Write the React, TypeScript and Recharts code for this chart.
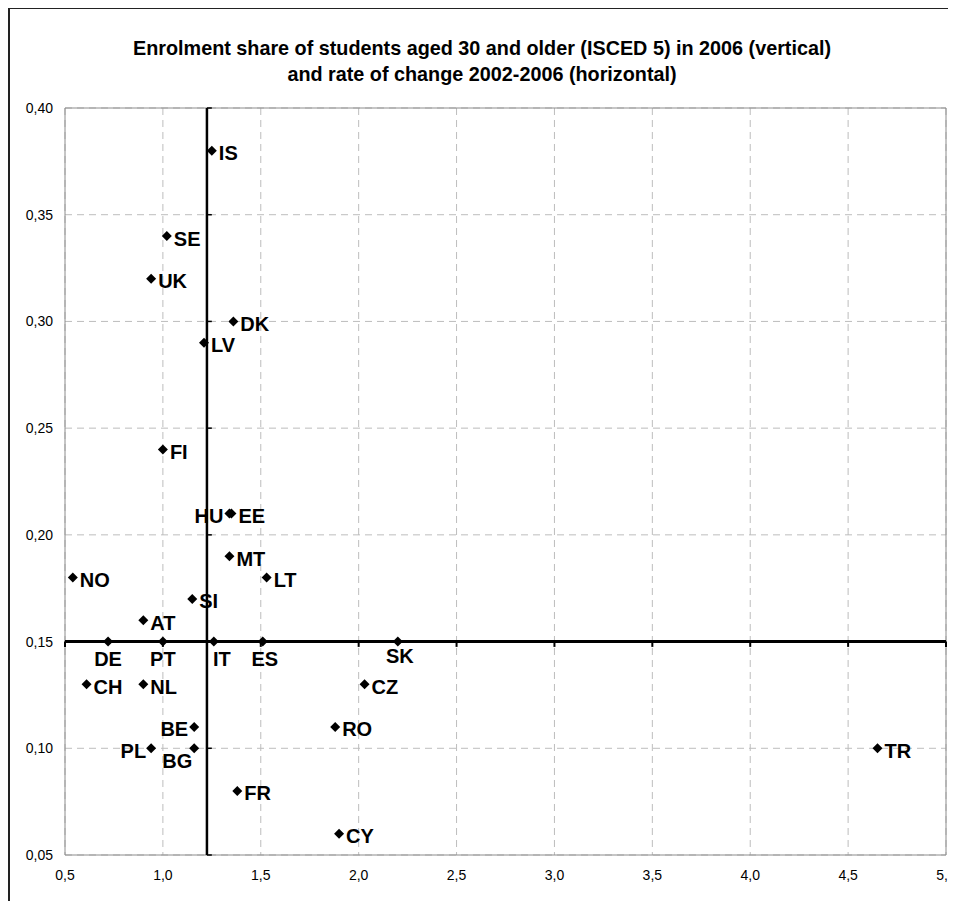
import React from "react";
import {
  ScatterChart,
  Scatter,
  XAxis,
  YAxis,
  CartesianGrid,
  ReferenceLine,
  ReferenceArea,
  LabelList,
} from "recharts";

const COUNTRIES = ["IS", "SE", "UK", "DK", "LV", "FI", "HU", "EE", "MT", "LT", "SI", "AT", "NO", "DE", "PT", "IT", "ES", "SK", "CH", "NL", "CZ", "BE", "RO", "PL", "BG", "TR", "FR", "CY"];
// rate of change 2002-2006 (horizontal)
const CHANGE = [1.25, 1.02, 0.94, 1.36, 1.21, 1.0, 1.34, 1.35, 1.34, 1.53, 1.15, 0.9, 0.54, 0.72, 1.0, 1.26, 1.51, 2.2, 0.61, 0.9, 2.03, 1.16, 1.88, 0.94, 1.16, 4.65, 1.38, 1.9];
// enrolment share of students aged 30+ in 2006 (vertical)
const SHARE = [0.38, 0.34, 0.32, 0.3, 0.29, 0.24, 0.21, 0.21, 0.19, 0.18, 0.17, 0.16, 0.18, 0.15, 0.15, 0.15, 0.15, 0.15, 0.13, 0.13, 0.13, 0.11, 0.11, 0.1, 0.1, 0.1, 0.08, 0.06];

const X_TICKS = [0.5, 1.0, 1.5, 2.0, 2.5, 3.0, 3.5, 4.0, 4.5, 5.0];
const Y_TICKS = [0.05, 0.1, 0.15, 0.2, 0.25, 0.3, 0.35, 0.4];
const X_CROSS = 1.225; // where the vertical axis crosses
const Y_CROSS = 0.15; // where the horizontal axis crosses

const data = COUNTRIES.map((name, i) => ({ name, x: CHANGE[i], y: SHARE[i] }));

const FONT = '"Liberation Sans", Arial, sans-serif';

// label placement: [dx, dy, anchor]; default is to the right of the marker
const LABEL_POS: Record<string, [number, number, string]> = {
  HU: [-6, 9.5, "end"],
  BE: [-6, 9.5, "end"],
  PL: [-5, 9.5, "end"],
  DE: [0, 24, "middle"],
  PT: [0, 24, "middle"],
  IT: [8, 24, "middle"],
  ES: [2, 24, "middle"],
  SK: [2, 21, "middle"],
  BG: [-17, 20, "middle"],
};

const Diamond = (props: any) => {
  const { cx, cy } = props;
  const r = 5;
  return <polygon points={`${cx},${cy - r} ${cx + r},${cy} ${cx},${cy + r} ${cx - r},${cy}`} fill="#000" />;
};

const PointLabel = (props: any) => {
  const { x, y, width, height, value } = props;
  const cx = x + width / 2;
  const cy = y + height / 2;
  const [dx, dy, anchor] = LABEL_POS[value] || [7, 9.5, "start"];
  return (
    <text x={cx + dx} y={cy + dy} textAnchor={anchor} fontFamily={FONT} fontWeight="bold" fontSize={20} fill="#000">
      {value}
    </text>
  );
};

const XTick = (props: any) => {
  const { x, y, payload } = props;
  return (
    <text x={x} y={y} dy="0.71em" textAnchor="middle" fontFamily={FONT} fontSize={14} fill="#000">
      {payload.value.toFixed(1).replace(".", ",")}
    </text>
  );
};

const YTick = (props: any) => {
  const { x, y, payload } = props;
  return (
    <text x={x} y={y} dy="0.355em" textAnchor="end" fontFamily={FONT} fontSize={14} fill="#000">
      {payload.value.toFixed(2).replace(".", ",")}
    </text>
  );
};

export default function App() {
  return (
    <div style={{ position: "relative", width: 960, height: 893, overflow: "hidden", fontFamily: FONT }}>
      <style>{"html,body{overflow:hidden}"}</style>
      <div style={{ position: "absolute", left: 0, top: -1, width: 1000, height: 1000, borderTop: "2px solid #222", borderLeft: "2px solid #222" }} />
      <div style={{ position: "absolute", left: 0, top: 27, width: 948, textAlign: "center", fontWeight: "bold", fontSize: 19.8, lineHeight: "26px", color: "#000" }}>
        Enrolment share of students aged 30 and older (ISCED 5) in 2006 (vertical)
        <br />
        and rate of change 2002-2006 (horizontal)
      </div>
      <div style={{ position: "absolute", left: 0, top: 0 }}>
        <ScatterChart width={966} height={893} margin={{ top: 100, right: 28, left: 0, bottom: 16 }}>
          <CartesianGrid stroke="#bdbdbd" strokeDasharray="7 5" />
          <XAxis
            type="number"
            dataKey="x"
            domain={[0.5, 5]}
            ticks={X_TICKS}
            allowDataOverflow
            axisLine={false}
            tickLine={false}
            tickMargin={9}
            height={30}
            interval={0}
            tick={<XTick />}
          />
          <YAxis
            type="number"
            dataKey="y"
            domain={[0.05, 0.4]}
            ticks={Y_TICKS}
            allowDataOverflow
            axisLine={false}
            tickLine={false}
            tickMargin={6}
            width={57}
            interval={0}
            tick={<YTick />}
          />
          <ReferenceArea x1={0.5} x2={5} y1={0.05} y2={0.4} fill="none" fillOpacity={0} stroke="#8c8c8c" strokeWidth={1} />
          <ReferenceLine x={X_CROSS} stroke="#000" strokeWidth={2.5} />
          <ReferenceLine y={Y_CROSS} stroke="#000" strokeWidth={3} />
          {Y_TICKS.map((t) => (
            <ReferenceLine
              key={`yt-${t}`}
              segment={[{ x: X_CROSS, y: t }, { x: X_CROSS + 0.025, y: t }]}
              stroke="#000"
              strokeWidth={1.5}
            />
          ))}
          {X_TICKS.map((t) => (
            <ReferenceLine
              key={`xt-${t}`}
              segment={[{ x: t, y: Y_CROSS }, { x: t, y: Y_CROSS - 0.0025 }]}
              stroke="#000"
              strokeWidth={2}
            />
          ))}
          <Scatter data={data} shape={<Diamond />} isAnimationActive={false}>
            <LabelList dataKey="name" content={<PointLabel />} />
          </Scatter>
        </ScatterChart>
      </div>
    </div>
  );
}
